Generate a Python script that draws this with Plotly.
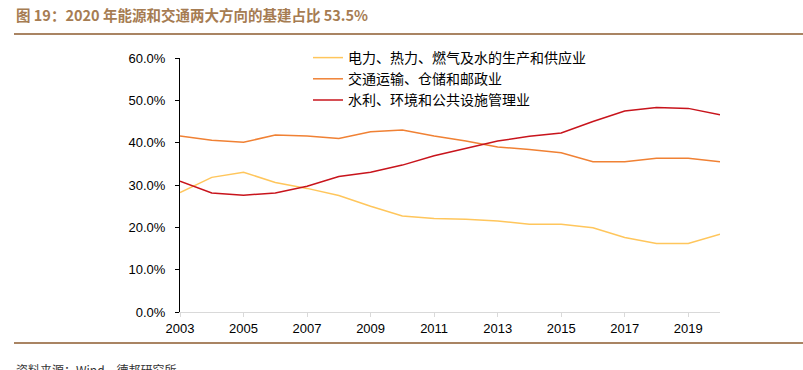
import plotly.graph_objects as go

years = list(range(2003, 2021))
energy = [28.2, 31.8, 33.0, 30.6, 29.2, 27.5, 25.0, 22.7, 22.1, 21.9, 21.5, 20.7, 20.7, 19.9, 17.6, 16.2, 16.2, 18.4]
transport = [41.6, 40.6, 40.1, 41.8, 41.6, 41.0, 42.6, 43.0, 41.6, 40.4, 39.0, 38.4, 37.6, 35.5, 35.5, 36.3, 36.3, 35.5]
water = [30.9, 28.1, 27.6, 28.1, 29.7, 32.0, 33.0, 34.7, 36.9, 38.7, 40.4, 41.5, 42.3, 45.0, 47.5, 48.3, 48.1, 46.6]
names = ["电力、热力、燃气及水的生产和供应业", "交通运输、仓储和邮政业", "水利、环境和公共设施管理业"]
colors = ["#FFC65C", "#F08134", "#C8141C"]
title_text = "图 19：2020 年能源和交通两大方向的基建占比 53.5%"
source_text = "资料来源：Wind，德邦研究所"

fig = go.Figure()
for vals, name, col in zip([energy, transport, water], names, colors):
    fig.add_trace(go.Scatter(x=years, y=[v / 100 for v in vals], name=name, mode="lines",
                             line=dict(color=col, width=1.5)))

W, H = 803, 370
PL, PR, PT, PB = 180, 720, 58, 312  # plot area in window pixels
L, R, T, B = PL, W - PR, PT, H - PB
pw, ph = PR - PL, PB - PT

def px(x):
    return (x - PL) / pw

def py(y):
    return (PB - y) / ph

fig.update_layout(
    width=W, height=H, autosize=False,
    margin=dict(l=L, r=R, t=T, b=B, pad=0),
    plot_bgcolor="white", paper_bgcolor="white",
    font=dict(family="Liberation Sans, Arial", size=13, color="#000000"),
    xaxis=dict(range=[2003, 2020], tickmode="array", tickvals=list(range(2003, 2021, 2)),
               showgrid=False, zeroline=False, showline=True, linecolor="#d9d9d9", linewidth=1,
               ticks="outside", ticklen=4, tickcolor="#d9d9d9",
               tickfont=dict(size=13, family="Liberation Sans, Arial")),
    yaxis=dict(range=[0, 0.6], dtick=0.1, tickformat=".1%", showgrid=False, zeroline=False,
               showline=True, linecolor="#000000", linewidth=1, ticks="outside", ticklen=4,
               tickcolor="#000000", ticklabelstandoff=7,
               tickfont=dict(size=13, family="Liberation Sans, Arial")),
    legend=dict(x=px(308), y=py(42), xanchor="left", yanchor="top", bgcolor="rgba(0,0,0,0)",
                font=dict(family="Noto Sans CJK SC", size=14, color="#000000"),
                itemwidth=30, tracegroupgap=0),
    showlegend=True,
)

fig.add_annotation(x=px(14), y=py(14), xref="paper", yref="paper", xanchor="left", yanchor="middle",
                   text="<b>" + title_text + "</b>", showarrow=False,
                   font=dict(family="Noto Sans CJK SC", size=14.5, color="#A67C52"))
fig.add_annotation(x=px(14), y=py(369), xref="paper", yref="paper", xanchor="left", yanchor="middle",
                   text=source_text, showarrow=False,
                   font=dict(family="Noto Sans CJK SC", size=12, color="#333333"))
for yy in (34, 343):
    fig.add_shape(type="line", xref="paper", yref="paper", x0=px(14), x1=px(803), y0=py(yy), y1=py(yy),
                  line=dict(color="#A98463", width=2))

fig.write_html("out.html", post_script="document.body.style.margin='0';",
               config={"displayModeBar": False})
